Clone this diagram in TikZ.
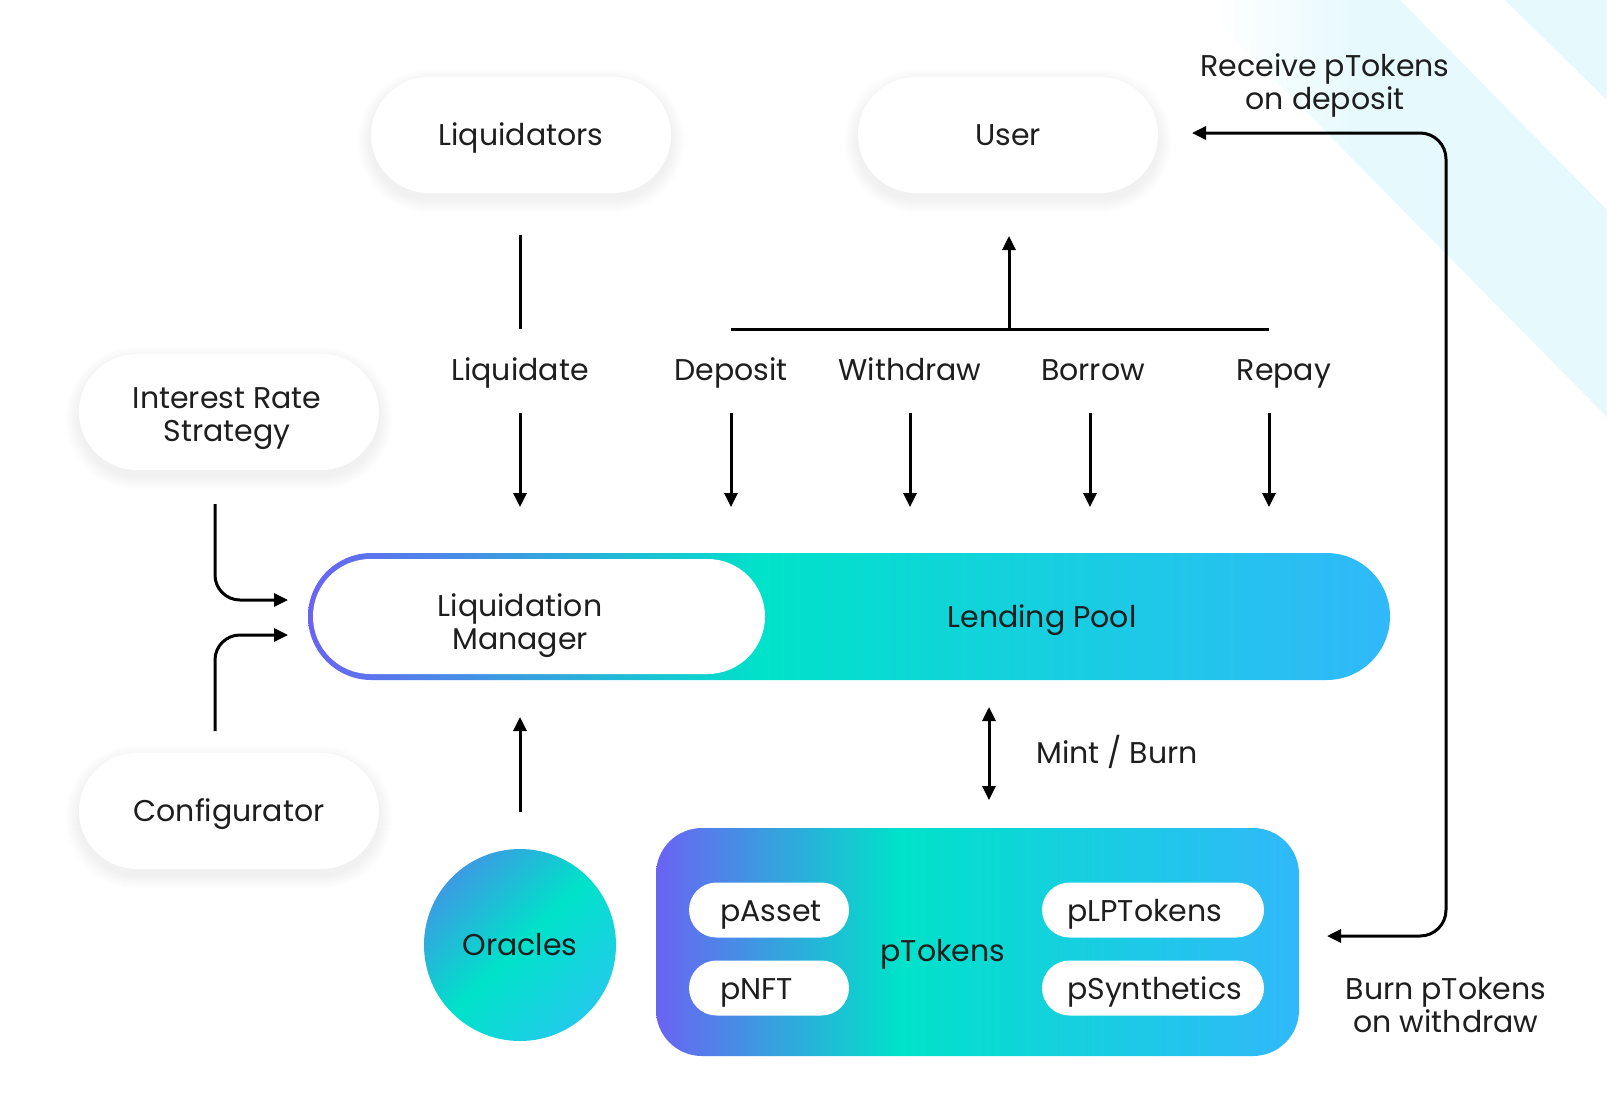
\documentclass[tikz,border=0pt]{standalone}
\usepackage{fontspec}
\setmainfont{Poppins}
\usetikzlibrary{arrows.meta}
\definecolor{ink}{HTML}{1E1E1E}
\definecolor{cpurple}{HTML}{6A63F3}
\definecolor{cteal}{HTML}{00E2C9}
\definecolor{cblue}{HTML}{31B8FA}
\definecolor{oblue}{HTML}{3B9BE3}
\definecolor{ocyan}{HTML}{22CBEA}
\definecolor{bandc}{HTML}{E6F9FD}
\pgfdeclarehorizontalshading{lpshade}{100bp}{color(0bp)=(cpurple); color(25bp)=(cpurple); color(46bp)=(cteal); color(75bp)=(cblue); color(100bp)=(cblue)}
\pgfdeclarehorizontalshading{ptshade}{100bp}{color(0bp)=(cpurple); color(25bp)=(cpurple); color(44bp)=(cteal); color(75bp)=(cblue); color(100bp)=(cblue)}
\pgfdeclarehorizontalshading{orshade}{100bp}{color(0bp)=(oblue); color(25bp)=(oblue); color(50bp)=(cteal); color(75bp)=(ocyan); color(100bp)=(ocyan)}
\pgfdeclarehorizontalshading{bandshade}{100bp}{color(0bp)=(white); color(27bp)=(white); color(45bp)=(bandc); color(100bp)=(bandc)}
\newcommand{\pillshadow}[4]{%
  \foreach \i in {1,...,14}{%
    \pgfmathsetmacro{\rr}{#4/2+\i}%
    \fill[black, opacity=0.0045, rounded corners=\rr pt] ({#1-#3/2-\i},{#2-#4/2-\i+6}) rectangle ({#1+#3/2+\i},{#2+#4/2+\i+6});
  }}
\begin{document}
\begin{tikzpicture}[x=1pt,y=-1pt,
  every node/.style={font=\fontsize{30}{33}\selectfont, text=ink, inner sep=0pt},
  pill/.style={rectangle, rounded corners=58pt, fill=white, minimum width=300pt, minimum height=116pt},
  spill/.style={rectangle, rounded corners=27.5pt, fill=white, minimum height=55pt},
  one/.style={text height=21pt, text depth=0pt},
  ln/.style={line width=3pt, draw=black},
  arr/.style={ln, -{Triangle[length=14pt,width=13pt]}},
  darr/.style={ln, {Triangle[length=14pt,width=13pt]}-{Triangle[length=14pt,width=13pt]}}
]
\fill[white] (0,0) rectangle (1607,1104);
\useasboundingbox (0,0) rectangle (1607,1104);
% background bands
\shade[shading=bandshade] (1196,0) -- (1400,0) -- (1607,210) -- (1607,417) -- cycle;
\fill[bandc] (1505,0) -- (1607,0) -- (1607,100) -- cycle;

% top pills
\pillshadow{521}{135}{300}{116}
\node[pill, one] (liq) at (521,135) {Liquidators};
\pillshadow{1008}{135}{300}{116}
\node[pill, one] (usr) at (1008,135) {User};
\pillshadow{229}{412}{300}{116}
\node[pill] (irs) at (229,412) {};
\node[align=center] (irst) at (227,419) {Interest Rate\\Strategy};
\pillshadow{229}{811}{300}{116}
\node[pill, one] (cfg) at (229,811) {Configurator};

% action labels
\node[one] (lliq) at (520,370) {Liquidate};
\node[one] (ldep) at (731,370) {Deposit};
\node[one] (lwdr) at (910,370) {Withdraw};
\node[one] (lbor) at (1093,370) {Borrow};
\node[one] (lrep) at (1284,370) {Repay};

% lending pool
\node[rectangle, rounded corners=63.5pt, minimum width=1082pt, minimum height=127pt, shade, shading=lpshade] (lp) at (849,616.5) {};
\node[rectangle, rounded corners=57.5pt, fill=white, minimum width=452pt, minimum height=115pt] (lm) at (539,616.5) {};
\node[align=center] (lmt) at (520,626) {Liquidation\\Manager};
\node[one] (lpt) at (1042,617) {Lending Pool};

% oracles
\node[circle, minimum size=192pt, shade, shading=orshade, shading angle=-45, one] (orc) at (520,945) {Oracles};

% ptokens
\node[rectangle, rounded corners=46pt, minimum width=643pt, minimum height=228pt, shade, shading=ptshade] (pt) at (977.5,942) {};
\node[one] (ptt) at (943,951) {pTokens};
\node[spill, minimum width=160pt] (pa) at (769,910) {};
\node[one, anchor=west] (pat) at (720,911) {pAsset};
\node[spill, minimum width=160pt] (pn) at (769,988) {};
\node[one, anchor=west] (pnt) at (720,989) {pNFT};
\node[spill, minimum width=222pt] (pl) at (1153,910) {};
\node[one, anchor=west] (plt) at (1067,911) {pLPTokens};
\node[spill, minimum width=222pt] (ps) at (1153,988) {};
\node[one, anchor=west] (pst) at (1067,989) {pSynthetics};

\node[one] (lmb) at (1117,753) {Mint / Burn};
\node[align=center] (rcv) at (1325,85) {Receive pTokens\\on deposit};
\node[align=center] (brn) at (1446,1005) {Burn pTokens\\on withdraw};

% connector coordinates
\coordinate (q1) at (520,235); \coordinate (q2) at (520,329);
\coordinate (hl) at (731,329); \coordinate (hr) at (1269,329);
\coordinate (u1) at (1009,329); \coordinate (u2) at (1009,236);
\foreach \n/\x in {a/520,b/731,c/910,d/1090,e/1269}{
  \coordinate (d\n1) at (\x,413); \coordinate (d\n2) at (\x,507);
}
\coordinate (o1) at (520,812); \coordinate (o2) at (520,717);
\coordinate (m1) at (989,707); \coordinate (m2) at (989,800);
\coordinate (i1) at (215,504); \coordinate (i2) at (215,600); \coordinate (i3) at (288,600);
\coordinate (k1) at (215,731); \coordinate (k2) at (215,635); \coordinate (k3) at (288,635);
\coordinate (r1) at (1192,133); \coordinate (r2) at (1446,133); \coordinate (r3) at (1446,936); \coordinate (r4) at (1327,936);

\draw[ln] (q1) -- (q2);
\draw[ln] (hl) -- (hr);
\draw[arr] (u1) -- (u2);
\foreach \n in {a,b,c,d,e}{ \draw[arr] (d\n1) -- (d\n2); }
\draw[arr] (o1) -- (o2);
\draw[darr] (m1) -- (m2);
\draw[arr, rounded corners=25pt] (i1) -- (i2) -- (i3);
\draw[arr, rounded corners=25pt] (k1) -- (k2) -- (k3);
\draw[darr, rounded corners=26pt] (r1) -- (r2) -- (r3) -- (r4);
\end{tikzpicture}
\end{document}
